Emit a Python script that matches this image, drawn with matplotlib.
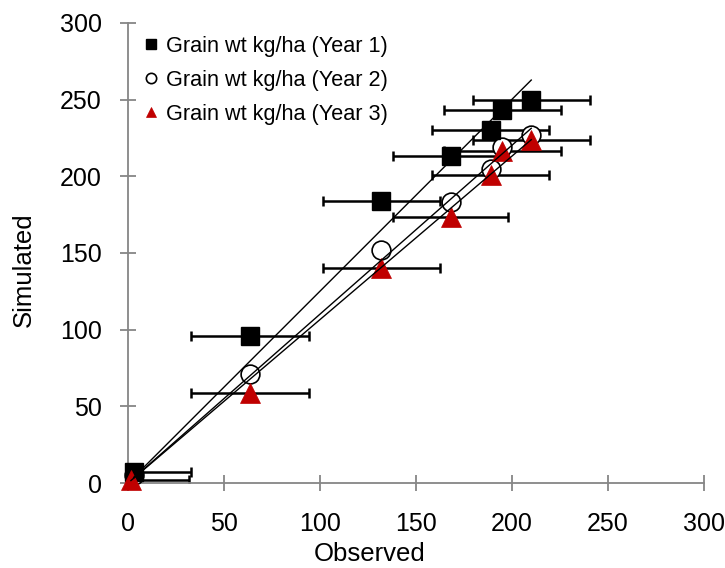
import matplotlib
matplotlib.use("Agg")
import matplotlib.pyplot as plt
import numpy as np

plt.rcParams['font.family'] = ['Liberation Sans', 'DejaVu Sans']

# observed vs simulated grain weight, three seasons
obs_y1 = [3, 63.5, 132, 168, 189, 195, 210]
sim_y1 = [7, 96, 184, 213, 230.5, 243.5, 249.5]
err_y1 = [30, 30.5, 30.5, 30, 30.5, 30.5, 30.5]

obs_y2 = [3, 63.5, 132, 168, 189, 195, 210]
sim_y2 = [5, 71, 152, 183.5, 205, 219, 227]

obs_y3 = [1.5, 63.5, 132, 168, 189, 195, 210]
sim_y3 = [2, 58.5, 140, 173.5, 201, 216.5, 224]
err_y3 = [30, 30.5, 30.5, 30, 30.5, 30.5, 30.5]

labels = ['Grain wt kg/ha (Year 1)', 'Grain wt kg/ha (Year 2)', 'Grain wt kg/ha (Year 3)']
red = '#C00000'
grey = '#868686'

fig = plt.figure(figsize=(7.25, 5.68), dpi=100)
ax = fig.add_axes([0.1766, 0.1496, 0.7945, 0.81])

# horizontal error bars (clipped at the axes like the plot area)
ax.errorbar(obs_y1, sim_y1, xerr=err_y1, fmt='none', ecolor='black',
            elinewidth=1.8, capsize=3.8, capthick=1.8, zorder=2)
ax.errorbar(obs_y3, sim_y3, xerr=err_y3, fmt='none', ecolor='black',
            elinewidth=1.8, capsize=3.8, capthick=1.8, zorder=2)

# markers
ax.plot(obs_y1, sim_y1, 's', color='black', ms=13.5, mew=1, ls='none',
        clip_on=False, zorder=3.5, label=labels[0])
ax.plot(obs_y2, sim_y2, 'o', mfc='white', mec='black', ms=13.5, mew=1.2,
        ls='none', clip_on=False, zorder=3, label=labels[1])
ax.plot(obs_y3, sim_y3, '^', color=red, ms=14, mew=0.5, ls='none',
        clip_on=False, zorder=4, label=labels[2])

# linear trendlines through the origin
for xs, ys in [(obs_y1, sim_y1), (obs_y2, sim_y2), (obs_y3, sim_y3)]:
    xs = np.array(xs)
    ys = np.array(ys)
    slope = np.sum(xs * ys) / np.sum(xs * xs)
    xl = np.array([xs.min(), xs.max()])
    ax.plot(xl, slope * xl, color='black', lw=1.0, zorder=5)

ax.set_xlim(0, 300)
ax.set_ylim(0, 300)
ax.set_xticks(np.arange(0, 301, 50))
ax.set_yticks(np.arange(0, 301, 50))

for side in ['top', 'right']:
    ax.spines[side].set_visible(False)
for side in ['left', 'bottom']:
    ax.spines[side].set_color(grey)
    ax.spines[side].set_linewidth(1.3)

ax.tick_params(axis='both', direction='inout', length=11.5, width=1.3,
               color=grey, labelsize=18, labelcolor='black')
ax.tick_params(axis='x', pad=15)
ax.tick_params(axis='y', pad=13)

ax.set_xlabel('Observed', fontsize=18.5)
ax.set_ylabel('Simulated', fontsize=18.5)
ax.xaxis.set_label_coords(0.42, -0.128)
ax.yaxis.set_label_coords(-0.16, 0.463)

leg = ax.legend(loc='upper left', bbox_to_anchor=(-0.002, 1.005), frameon=False,
                fontsize=15.6, markerscale=0.55, handlelength=0.8,
                handletextpad=0.3, labelspacing=0.6, borderaxespad=0.3)

fig.savefig('out.png', dpi=100)
